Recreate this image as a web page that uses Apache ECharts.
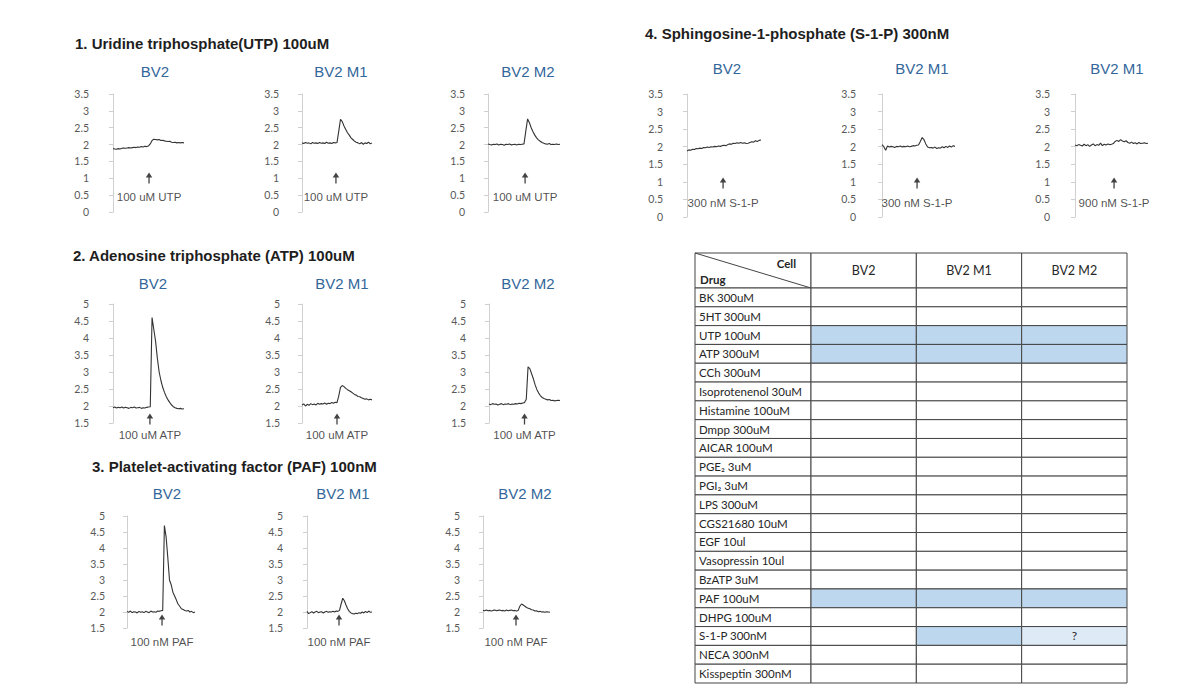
<!DOCTYPE html>
<html><head><meta charset="utf-8">
<script src="https://cdn.jsdelivr.net/npm/echarts@6/dist/echarts.min.js"></script>
<style>html,body{margin:0;padding:0;background:#fff}#c{width:1196px;height:699px}</style>
</head><body><div id="c"></div>
<script>
// ---------------- DATA ----------------
const sectionTitles = ['1. Uridine triphosphate(UTP) 100uM', '2. Adenosine triphosphate (ATP) 100uM', '3. Platelet-activating factor (PAF) 100nM', '4. Sphingosine-1-phosphate (S-1-P) 300nM'];
const panelTitles = [['BV2', 'BV2 M1', 'BV2 M2'], ['BV2', 'BV2 M1', 'BV2 M2'], ['BV2', 'BV2 M1', 'BV2 M2'], ['BV2', 'BV2 M1', 'BV2 M1']];
const stimLabels = [['100 uM UTP', '100 uM UTP', '100 uM UTP'], ['100 uM ATP', '100 uM ATP', '100 uM ATP'], ['100 nM PAF', '100 nM PAF', '100 nM PAF'], ['300 nM S-1-P', '300 nM S-1-P', '900 nM S-1-P']];
const stimIndex = [[20.3, 19.4, 20.6], [20.8, 20, 20], [20.6, 19.7, 19.7], [19.5, 19.2, 21.4]];
const yMin = [0, 1.5, 1.5, 0];
const yMax = [3.5, 5, 5, 3.5];
const yStep = 0.5;

const utpBV2 = [1.88,1.87,1.86,1.88,1.87,1.89,1.9,1.89,1.9,1.91,1.9,1.91,1.92,1.91,1.93,1.92,1.94,1.93,1.95,1.94,1.96,2.02,2.12,2.16,2.15,2.14,2.15,2.12,2.13,2.11,2.1,2.09,2.1,2.07,2.06,2.07,2.05,2.06,2.05,2.06,2.05];
const utpM1 = [2.05,2.03,2.06,2.04,2.05,2.02,2.06,2.04,2.05,2.03,2.06,2.04,2.05,2.03,2.07,2.04,2.05,2.03,2.06,2.05,2.06,2.4,2.75,2.68,2.55,2.45,2.35,2.28,2.2,2.15,2.1,2.07,2.05,2.02,2.06,2.01,2.05,2.03,2.07,2.02,2.05];
const utpM2 = [2.02,2.0,1.99,2.01,2.0,2.02,1.99,2.01,2.0,1.98,2.01,2.0,2.02,1.99,2.0,2.01,1.99,2.01,2.0,2.01,2.02,2.4,2.76,2.65,2.5,2.38,2.28,2.2,2.14,2.1,2.06,2.04,2.02,2.01,2.03,2.0,2.01,2.0,2.02,2.0,2.01];
const atpBV2 = [1.95,1.97,1.94,1.96,1.95,1.97,1.94,1.96,1.95,1.93,1.96,1.95,1.97,1.94,1.95,1.96,1.93,1.95,1.94,1.96,1.97,1.98,4.6,4.25,3.9,3.4,3.0,2.75,2.55,2.4,2.28,2.18,2.1,2.03,1.98,1.95,1.93,1.92,1.93,1.91,1.92];
const atpM1 = [2.03,2.06,2.0,2.05,2.02,2.07,2.04,2.06,2.03,2.08,2.05,2.07,2.06,2.09,2.05,2.08,2.07,2.1,2.08,2.11,2.1,2.3,2.55,2.6,2.57,2.52,2.48,2.45,2.42,2.38,2.34,2.32,2.28,2.27,2.24,2.22,2.2,2.21,2.18,2.2,2.18];
const atpM2 = [2.06,2.04,2.07,2.05,2.06,2.03,2.05,2.07,2.04,2.06,2.05,2.07,2.04,2.06,2.05,2.07,2.06,2.08,2.07,2.09,2.1,2.2,3.15,3.1,2.95,2.8,2.62,2.48,2.38,2.3,2.25,2.22,2.2,2.18,2.19,2.16,2.17,2.15,2.16,2.17,2.16];
const pafBV2 = [2.02,1.99,2.03,1.98,2.01,2.0,1.97,2.02,1.99,2.01,1.98,2.02,2.0,1.98,2.03,2.0,2.01,1.99,2.03,2.02,2.04,2.05,4.7,4.35,3.7,3.0,2.85,2.62,2.5,2.38,2.25,2.18,2.1,2.08,2.05,2.03,2.05,2.0,2.02,1.98,2.0];
const pafM1 = [2.02,1.95,1.98,2.01,1.97,2.0,2.02,1.98,2.0,2.01,1.97,2.0,2.02,1.99,2.01,2.0,2.02,2.0,2.03,2.02,2.05,2.25,2.43,2.35,2.22,2.1,2.02,1.97,1.95,1.94,1.96,1.95,1.98,1.96,2.0,1.97,2.02,1.98,2.03,1.99,2.0];
const pafM2 = [2.05,2.04,2.06,2.04,2.05,2.03,2.05,2.06,2.04,2.05,2.06,2.04,2.05,2.03,2.06,2.04,2.05,2.06,2.04,2.05,2.03,2.05,2.18,2.25,2.22,2.18,2.14,2.12,2.1,2.07,2.06,2.03,2.04,2.01,2.02,2.0,2.01,1.99,2.01,2.0,1.99];
const s1pBV2 = [1.88,1.91,1.9,1.93,1.92,1.95,1.94,1.96,1.95,1.98,1.97,1.99,1.98,2.0,1.99,2.01,2.0,2.02,2.01,2.03,2.04,2.03,2.06,2.08,2.07,2.1,2.09,2.11,2.1,2.12,2.1,2.11,2.09,2.1,2.12,2.14,2.13,2.17,2.15,2.18,2.19];
const s1pM1 = [2.06,2.0,1.9,2.02,1.99,2.01,2.0,1.98,2.01,2.0,2.02,1.99,2.01,2.0,2.02,2.0,2.01,2.03,2.02,2.04,2.05,2.15,2.26,2.2,2.08,1.99,1.97,1.98,1.96,1.99,1.95,1.97,1.96,2.0,1.97,2.01,1.98,2.02,1.99,2.03,2.01];
const s1pM1High = [2.05,2.03,2.06,2.04,2.02,2.07,2.03,2.06,2.01,2.05,2.08,2.03,2.06,2.04,2.1,2.03,2.07,2.05,2.08,2.06,2.07,2.09,2.15,2.18,2.15,2.2,2.16,2.14,2.17,2.12,2.1,2.13,2.09,2.11,2.08,2.12,2.09,2.1,2.11,2.09,2.1];
const traces = [[utpBV2, utpM1, utpM2], [atpBV2, atpM1, atpM2], [pafBV2, pafM1, pafM2], [s1pBV2, s1pM1, s1pM1High]];

const cellTypes = ['BV2', 'BV2 M1', 'BV2 M2'];
const drugs = ['BK 300uM', '5HT 300uM', 'UTP 100uM', 'ATP 300uM', 'CCh 300uM', 'Isoprotenenol 30uM', 'Histamine 100uM', 'Dmpp 300uM', 'AICAR 100uM', 'PGE\u2082 3uM', 'PGI\u2082 3uM', 'LPS 300uM', 'CGS21680 10uM', 'EGF 10ul', 'Vasopressin 10ul', 'BzATP 3uM', 'PAF 100uM', 'DHPG 100uM', 'S-1-P 300nM', 'NECA 300nM', 'Kisspeptin 300nM'];
// 0 = no response, 1 = response, 2 = uncertain (?)
const responses = [[0,0,0],[0,0,0],[1,1,1],[1,1,1],[0,0,0],[0,0,0],[0,0,0],[0,0,0],[0,0,0],[0,0,0],[0,0,0],[0,0,0],[0,0,0],[0,0,0],[0,0,0],[0,0,0],[1,1,1],[0,0,0],[0,1,2],[0,0,0],[0,0,0]];

// ---------------- LAYOUT ----------------
const sections = [
  {title: [75, 43], ptY: 71, ptX: [155, 341, 528], top: 94, height: 118, axes: [[96, 113, 184], [286, 302, 372], [472, 488, 560]], arrowDy: -34, labelDy: -15},
  {title: [73, 255], ptY: 283, ptX: [153, 342, 528], top: 304, height: 119, axes: [[96, 113, 184], [287, 302, 372], [473, 489, 560]], arrowDy: -4, labelDy: 12},
  {title: [92, 466], ptY: 493, ptX: [167, 343, 525], top: 516, height: 112, axes: [[112, 127, 195], [290, 307, 372], [467, 483, 550]], arrowDy: -8, labelDy: 14},
  {title: [645, 33], ptY: 68, ptX: [727, 922, 1117], top: 94, height: 123, axes: [[670, 687, 761], [863, 882, 955], [1057, 1075, 1148]], arrowDy: -34, labelDy: -14}
];
const ARIAL = '"Liberation Sans", Arial, sans-serif';
const CALIBRI = 'Lato, "Noto Sans", sans-serif';
const axisGray = '#d0d0d0';
const tableLine = '#454545';
const arrowPath = 'path://M5,0L10,9L6,9L6,20L4,20L4,9L0,9Z';

const grids = [], xAxes = [], yAxes = [], series = [], graphics = [];
function txt(text, x, y, font, fill, align, valign) {
  return {type: 'text', x: x, y: y, silent: true,
    style: {text: text, font: font, fill: fill, align: align, textAlign: align, verticalAlign: valign, textVerticalAlign: valign}};
}

sections.forEach((sec, si) => {
  graphics.push(txt(sectionTitles[si], sec.title[0], sec.title[1], 'bold 15px ' + ARIAL, '#1e1e1e', 'left', 'middle'));
  sec.axes.forEach((ax, pi) => {
    const gi = grids.length;
    graphics.push(txt(panelTitles[si][pi], sec.ptX[pi], sec.ptY, '15px ' + ARIAL, '#33669a', 'center', 'middle'));
    grids.push({left: ax[1], top: sec.top, width: ax[2] - ax[1], height: sec.height, containLabel: false, outerBoundsMode: 'none'});
    xAxes.push({gridIndex: gi, type: 'value', min: 0, max: traces[si][pi].length - 1, show: false});
    yAxes.push({gridIndex: gi, type: 'value', min: yMin[si], max: yMax[si], interval: yStep, offset: ax[1] - ax[0],
      axisLine: {show: true, lineStyle: {color: axisGray, width: 1}},
      axisTick: {show: true, inside: false, length: 4, lineStyle: {color: axisGray}},
      axisLabel: {show: true, fontSize: 10.5, color: '#595959', margin: 7, fontFamily: CALIBRI},
      splitLine: {show: false}});
    series.push({type: 'line', xAxisIndex: gi, yAxisIndex: gi, data: traces[si][pi].map((v, i) => [i, v]),
      showSymbol: false, symbol: 'none', silent: true, animation: false, clip: false,
      lineStyle: {color: '#333333', width: 1.1}});
    series.push({type: 'scatter', xAxisIndex: gi, yAxisIndex: gi, data: [[stimIndex[si][pi], yMin[si]]],
      symbol: arrowPath, symbolSize: [6.5, 11], symbolOffset: [0, sec.arrowDy], clip: false, silent: true, animation: false,
      itemStyle: {color: '#141414'}});
    series.push({type: 'scatter', xAxisIndex: gi, yAxisIndex: gi, data: [[stimIndex[si][pi], yMin[si]]],
      symbolSize: 1, clip: false, silent: true, animation: false, itemStyle: {color: 'rgba(0,0,0,0)'},
      label: {show: true, position: 'inside', offset: [0, sec.labelDy], formatter: stimLabels[si][pi],
        fontSize: 11.5, fontFamily: ARIAL, color: '#1e1e1e'}});
  });
});

// ---------------- TABLE ----------------
const T = {left: 695, top: 253, firstW: 116, right: 1127, headH: 35, bottom: 683};
function addGrid(left, top, width, height, xData, yData) {
  const gi = grids.length;
  grids.push({left: left, top: top, width: width, height: height, containLabel: false, outerBoundsMode: 'none'});
  xAxes.push({gridIndex: gi, type: 'category', data: xData, show: false});
  yAxes.push({gridIndex: gi, type: 'category', data: yData, inverse: true, show: false});
  return gi;
}
function cellRect(api, col, row) {
  const c = api.coord([col, row]);
  const s = api.size([1, 1]);
  return {x: c[0] - s[0] / 2, y: c[1] - s[1] / 2, w: s[0], h: s[1], cx: c[0], cy: c[1]};
}
function textEl(text, x, y, font, align) {
  return {type: 'text', style: {text: text, x: x, y: y, font: font, fill: '#262626', align: align, textAlign: align, verticalAlign: 'middle', textVerticalAlign: 'middle'}};
}
// corner header
const gCorner = addGrid(T.left, T.top, T.firstW, T.headH, ['Drug'], ['Cell']);
series.push({type: 'custom', xAxisIndex: gCorner, yAxisIndex: gCorner, data: [[0, 0]], silent: true, animation: false, clip: false,
  renderItem: (params, api) => {
    const r = cellRect(api, 0, 0);
    return {type: 'group', children: [
      {type: 'rect', shape: {x: r.x, y: r.y, width: r.w, height: r.h}, style: {fill: '#fff', stroke: tableLine, lineWidth: 1}},
      {type: 'line', shape: {x1: r.x, y1: r.y, x2: r.x + r.w, y2: r.y + r.h}, style: {stroke: tableLine, lineWidth: 1}},
      textEl('Cell', r.x + r.w - 15, r.y + 10, 'bold 11.5px ' + CALIBRI, 'right'),
      textEl('Drug', r.x + 5, r.y + r.h - 9, 'bold 11.5px ' + CALIBRI, 'left')
    ]};
  }});
// column headers
const gHead = addGrid(T.left + T.firstW, T.top, T.right - T.left - T.firstW, T.headH, cellTypes, ['Cell']);
series.push({type: 'custom', xAxisIndex: gHead, yAxisIndex: gHead, data: cellTypes.map((c, i) => [i, 0]), silent: true, animation: false, clip: false,
  renderItem: (params, api) => {
    const r = cellRect(api, api.value(0), 0);
    return {type: 'group', children: [
      {type: 'rect', shape: {x: r.x, y: r.y, width: r.w, height: r.h}, style: {fill: '#fff', stroke: tableLine, lineWidth: 1}},
      textEl(cellTypes[params.dataIndex], r.cx, r.cy, '12.5px ' + CALIBRI, 'center')
    ]};
  }});
// drug names
const gDrug = addGrid(T.left, T.top + T.headH, T.firstW, T.bottom - T.top - T.headH, ['Drug'], drugs);
series.push({type: 'custom', xAxisIndex: gDrug, yAxisIndex: gDrug, data: drugs.map((d, i) => [0, i]), silent: true, animation: false, clip: false,
  renderItem: (params, api) => {
    const r = cellRect(api, 0, api.value(1));
    return {type: 'group', children: [
      {type: 'rect', shape: {x: r.x, y: r.y, width: r.w, height: r.h}, style: {fill: '#fff', stroke: tableLine, lineWidth: 1}},
      textEl(drugs[params.dataIndex], r.x + 4, r.cy, '11.5px ' + CALIBRI, 'left')
    ]};
  }});
// response cells
const cellData = [];
responses.forEach((row, ri) => row.forEach((v, ci) => cellData.push([ci, ri, v])));
const gCells = addGrid(T.left + T.firstW, T.top + T.headH, T.right - T.left - T.firstW, T.bottom - T.top - T.headH, cellTypes, drugs);
const fills = ['#ffffff', '#bdd7ee', '#deebf7'];
series.push({type: 'custom', xAxisIndex: gCells, yAxisIndex: gCells, data: cellData, silent: true, animation: false, clip: false,
  renderItem: (params, api) => {
    const st = api.value(2);
    const r = cellRect(api, api.value(0), api.value(1));
    const ch = [{type: 'rect', shape: {x: r.x, y: r.y, width: r.w, height: r.h}, style: {fill: fills[st], stroke: tableLine, lineWidth: 1}}];
    if (st === 2) ch.push(textEl('?', r.cx, r.cy, '12px ' + CALIBRI, 'center'));
    return {type: 'group', children: ch};
  }});

const chart = echarts.init(document.getElementById('c'), null, {renderer: 'svg', width: 1196, height: 699});
chart.setOption({
  backgroundColor: '#ffffff',
  animation: false,
  grid: grids, xAxis: xAxes, yAxis: yAxes, series: series,
  graphic: {elements: graphics}
});
</script></body></html>
